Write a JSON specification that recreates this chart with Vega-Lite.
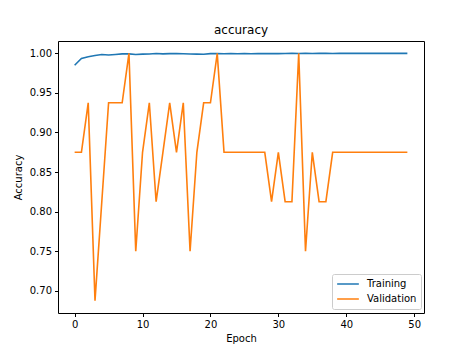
{
  "$schema": "https://vega.github.io/schema/vega-lite/v6.json",
  "autosize": "none",
  "padding": {"left": 58, "top": 41, "right": 46, "bottom": 38},
  "width": 366,
  "height": 272,
  "background": "white",
  "title": {"text": "accuracy", "fontSize": 12, "fontWeight": "normal", "font": "DejaVu Sans", "color": "black", "offset": 4},
  "data": {"values": [
    {"epoch": 0, "series": "Training", "acc": 0.985},
    {"epoch": 1, "series": "Training", "acc": 0.9935},
    {"epoch": 2, "series": "Training", "acc": 0.9958},
    {"epoch": 3, "series": "Training", "acc": 0.9972},
    {"epoch": 4, "series": "Training", "acc": 0.9985},
    {"epoch": 5, "series": "Training", "acc": 0.998},
    {"epoch": 6, "series": "Training", "acc": 0.9986},
    {"epoch": 7, "series": "Training", "acc": 0.9993},
    {"epoch": 8, "series": "Training", "acc": 0.9993},
    {"epoch": 9, "series": "Training", "acc": 0.9985},
    {"epoch": 10, "series": "Training", "acc": 0.999},
    {"epoch": 11, "series": "Training", "acc": 0.9992},
    {"epoch": 12, "series": "Training", "acc": 0.9998},
    {"epoch": 13, "series": "Training", "acc": 0.9993},
    {"epoch": 14, "series": "Training", "acc": 0.9996},
    {"epoch": 15, "series": "Training", "acc": 0.9996},
    {"epoch": 16, "series": "Training", "acc": 0.9994},
    {"epoch": 17, "series": "Training", "acc": 0.9992},
    {"epoch": 18, "series": "Training", "acc": 0.999},
    {"epoch": 19, "series": "Training", "acc": 0.9988},
    {"epoch": 20, "series": "Training", "acc": 0.9996},
    {"epoch": 21, "series": "Training", "acc": 0.9997},
    {"epoch": 22, "series": "Training", "acc": 0.9995},
    {"epoch": 23, "series": "Training", "acc": 0.9997},
    {"epoch": 24, "series": "Training", "acc": 0.9995},
    {"epoch": 25, "series": "Training", "acc": 0.9997},
    {"epoch": 26, "series": "Training", "acc": 0.9994},
    {"epoch": 27, "series": "Training", "acc": 0.9997},
    {"epoch": 28, "series": "Training", "acc": 0.9996},
    {"epoch": 29, "series": "Training", "acc": 0.9998},
    {"epoch": 30, "series": "Training", "acc": 0.9997},
    {"epoch": 31, "series": "Training", "acc": 0.9998},
    {"epoch": 32, "series": "Training", "acc": 0.9999},
    {"epoch": 33, "series": "Training", "acc": 0.9998},
    {"epoch": 34, "series": "Training", "acc": 1.0},
    {"epoch": 35, "series": "Training", "acc": 0.9999},
    {"epoch": 36, "series": "Training", "acc": 1.0},
    {"epoch": 37, "series": "Training", "acc": 1.0},
    {"epoch": 38, "series": "Training", "acc": 0.9999},
    {"epoch": 39, "series": "Training", "acc": 1.0},
    {"epoch": 40, "series": "Training", "acc": 1.0},
    {"epoch": 41, "series": "Training", "acc": 1.0},
    {"epoch": 42, "series": "Training", "acc": 1.0},
    {"epoch": 43, "series": "Training", "acc": 1.0},
    {"epoch": 44, "series": "Training", "acc": 1.0},
    {"epoch": 45, "series": "Training", "acc": 1.0},
    {"epoch": 46, "series": "Training", "acc": 1.0},
    {"epoch": 47, "series": "Training", "acc": 1.0},
    {"epoch": 48, "series": "Training", "acc": 1.0},
    {"epoch": 49, "series": "Training", "acc": 1.0},
    {"epoch": 0, "series": "Validation", "acc": 0.875},
    {"epoch": 1, "series": "Validation", "acc": 0.875},
    {"epoch": 2, "series": "Validation", "acc": 0.9375},
    {"epoch": 3, "series": "Validation", "acc": 0.6875},
    {"epoch": 4, "series": "Validation", "acc": 0.8125},
    {"epoch": 5, "series": "Validation", "acc": 0.9375},
    {"epoch": 6, "series": "Validation", "acc": 0.9375},
    {"epoch": 7, "series": "Validation", "acc": 0.9375},
    {"epoch": 8, "series": "Validation", "acc": 1.0},
    {"epoch": 9, "series": "Validation", "acc": 0.75},
    {"epoch": 10, "series": "Validation", "acc": 0.875},
    {"epoch": 11, "series": "Validation", "acc": 0.9375},
    {"epoch": 12, "series": "Validation", "acc": 0.8125},
    {"epoch": 13, "series": "Validation", "acc": 0.875},
    {"epoch": 14, "series": "Validation", "acc": 0.9375},
    {"epoch": 15, "series": "Validation", "acc": 0.875},
    {"epoch": 16, "series": "Validation", "acc": 0.9375},
    {"epoch": 17, "series": "Validation", "acc": 0.75},
    {"epoch": 18, "series": "Validation", "acc": 0.875},
    {"epoch": 19, "series": "Validation", "acc": 0.9375},
    {"epoch": 20, "series": "Validation", "acc": 0.9375},
    {"epoch": 21, "series": "Validation", "acc": 1.0},
    {"epoch": 22, "series": "Validation", "acc": 0.875},
    {"epoch": 23, "series": "Validation", "acc": 0.875},
    {"epoch": 24, "series": "Validation", "acc": 0.875},
    {"epoch": 25, "series": "Validation", "acc": 0.875},
    {"epoch": 26, "series": "Validation", "acc": 0.875},
    {"epoch": 27, "series": "Validation", "acc": 0.875},
    {"epoch": 28, "series": "Validation", "acc": 0.875},
    {"epoch": 29, "series": "Validation", "acc": 0.8125},
    {"epoch": 30, "series": "Validation", "acc": 0.875},
    {"epoch": 31, "series": "Validation", "acc": 0.8125},
    {"epoch": 32, "series": "Validation", "acc": 0.8125},
    {"epoch": 33, "series": "Validation", "acc": 1.0},
    {"epoch": 34, "series": "Validation", "acc": 0.75},
    {"epoch": 35, "series": "Validation", "acc": 0.875},
    {"epoch": 36, "series": "Validation", "acc": 0.8125},
    {"epoch": 37, "series": "Validation", "acc": 0.8125},
    {"epoch": 38, "series": "Validation", "acc": 0.875},
    {"epoch": 39, "series": "Validation", "acc": 0.875},
    {"epoch": 40, "series": "Validation", "acc": 0.875},
    {"epoch": 41, "series": "Validation", "acc": 0.875},
    {"epoch": 42, "series": "Validation", "acc": 0.875},
    {"epoch": 43, "series": "Validation", "acc": 0.875},
    {"epoch": 44, "series": "Validation", "acc": 0.875},
    {"epoch": 45, "series": "Validation", "acc": 0.875},
    {"epoch": 46, "series": "Validation", "acc": 0.875},
    {"epoch": 47, "series": "Validation", "acc": 0.875},
    {"epoch": 48, "series": "Validation", "acc": 0.875},
    {"epoch": 49, "series": "Validation", "acc": 0.875}
  ]},
  "mark": {"type": "line", "strokeWidth": 1.6, "clip": true},
  "encoding": {
    "x": {
      "field": "epoch", "type": "quantitative", "title": "Epoch",
      "scale": {"domain": [-2.45, 51.45], "nice": false, "zero": false},
      "axis": {"values": [0, 10, 20, 30, 40, 50], "grid": false, "domain": false, "tickSize": 3.5, "tickColor": "black", "labelPadding": 3, "titlePadding": 4, "labelFlush": false}
    },
    "y": {
      "field": "acc", "type": "quantitative", "title": "Accuracy",
      "scale": {"domain": [0.6719, 1.0156], "nice": false, "zero": false},
      "axis": {"values": [0.7, 0.75, 0.8, 0.85, 0.9, 0.95, 1.0], "format": ".2f", "grid": false, "domain": false, "tickSize": 3.5, "tickColor": "black", "labelPadding": 3, "titlePadding": 6, "labelFlush": false}
    },
    "color": {
      "field": "series", "type": "nominal",
      "scale": {"domain": ["Training", "Validation"], "range": ["#1f77b4", "#ff7f0e"]},
      "legend": {
        "title": null, "orient": "none", "legendX": 274, "legendY": 233,
        "symbolType": "stroke", "symbolSize": 470, "symbolStrokeWidth": 1.6,
        "clipHeight": 12,
        "labelFontSize": 10, "labelFont": "DejaVu Sans", "labelColor": "black", "labelOffset": 7,
        "padding": 4, "rowPadding": 3,
        "strokeColor": "#cccccc", "fillColor": "white", "cornerRadius": 2
      }
    }
  },
  "config": {
    "font": "DejaVu Sans",
    "view": {"stroke": "black", "strokeWidth": 1},
    "axis": {"labelFontSize": 10, "titleFontSize": 10, "titleFontWeight": "normal", "labelColor": "black", "titleColor": "black", "labelFont": "DejaVu Sans", "titleFont": "DejaVu Sans"}
  }
}
